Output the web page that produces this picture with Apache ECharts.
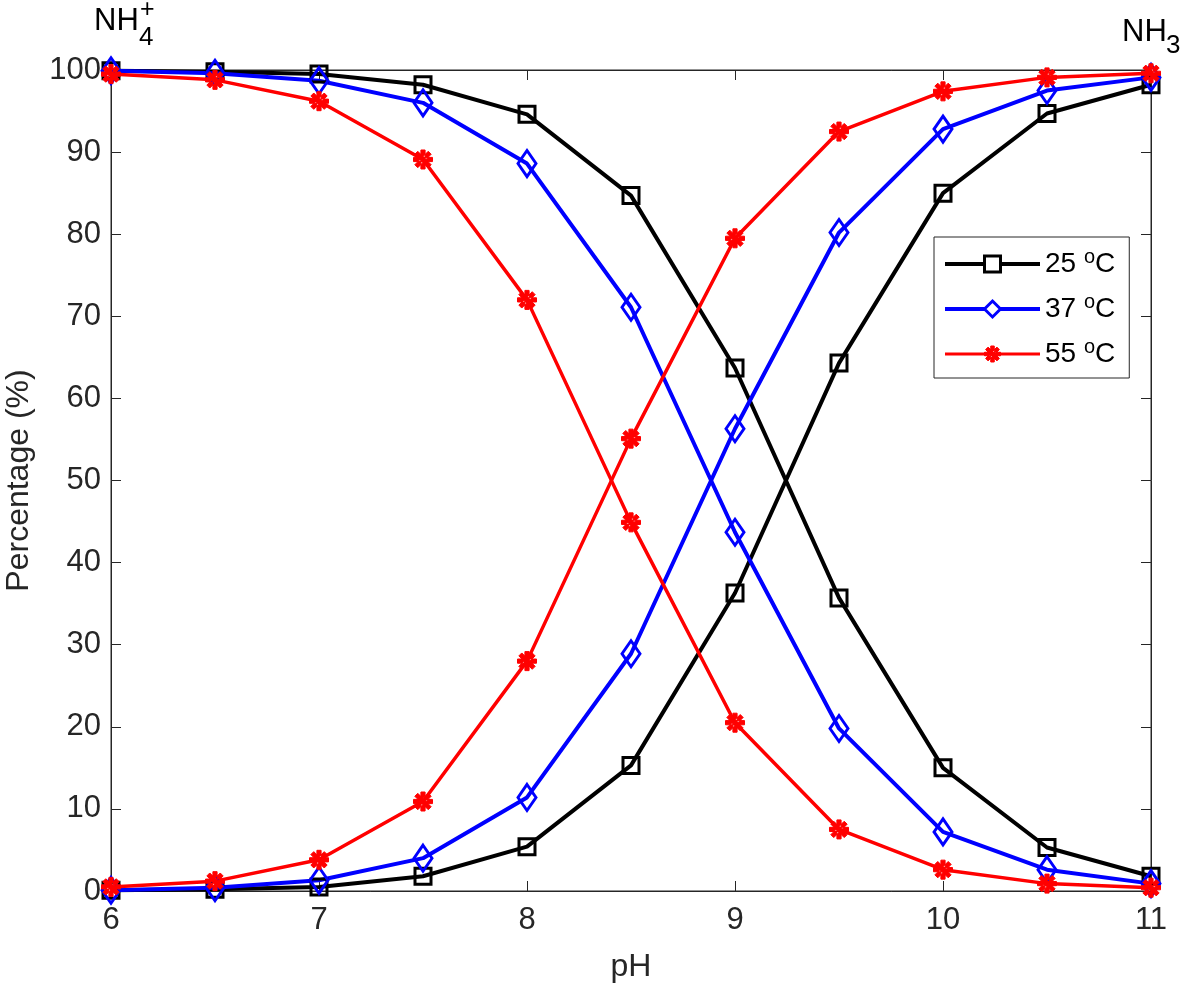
<!DOCTYPE html>
<html>
<head>
<meta charset="utf-8">
<script src="https://cdn.jsdelivr.net/npm/echarts@6/dist/echarts.min.js"></script>
<style>
html,body{margin:0;padding:0;background:#fff;}
#chart{width:1181px;height:990px;}
</style>
</head>
<body>
<div id="chart"></div>
<script>
// ---- data ----
var pH = [6, 6.5, 7, 7.5, 8, 8.5, 9, 9.5, 10, 10.5, 11];
var xTicks = [6, 7, 8, 9, 10, 11];
var yTicks = [0, 10, 20, 30, 40, 50, 60, 70, 80, 90, 100];
var temps = ['25', '37', '55'];
var nh4_25 = [99.9, 99.8, 99.5, 98.2, 94.6, 84.7, 63.7, 35.7, 15.0, 5.3, 1.8];
var nh3_25 = [0.1, 0.2, 0.5, 1.8, 5.4, 15.3, 36.3, 64.3, 85.0, 94.7, 98.2];
var nh4_37 = [99.9, 99.6, 98.7, 96.0, 88.6, 71.1, 43.7, 19.8, 7.2, 2.6, 0.9];
var nh3_37 = [0.1, 0.4, 1.3, 4.0, 11.4, 28.9, 56.3, 80.2, 92.8, 97.5, 99.1];
var nh4_55 = [99.5, 98.8, 96.2, 89.1, 72.0, 44.9, 20.5, 7.5, 2.6, 0.9, 0.4];
var nh3_55 = [0.5, 1.2, 3.8, 10.9, 28.0, 55.1, 79.5, 92.5, 97.4, 99.1, 99.6];

function pairs(ys) { return pH.map(function (x, i) { return [x, ys[i]]; }); }

var FONT = '"Liberation Sans", Arial, Helvetica, sans-serif';
var AX = '#262626';
var asterisk = 'path://M-2.2,-10L2.2,-10L2.2,10L-2.2,10Z M-10,-2.2L10,-2.2L10,2.2L-10,2.2Z ' +
  'M-5.5,-8.6L8.6,5.5L5.5,8.6L-8.6,-5.5Z M5.5,-8.6L-8.6,5.5L-5.5,8.6L8.6,-5.5Z';

var styles = {
  '25': { color: '#000000', width: 4, symbol: 'rect', size: 16, border: 3, legendLine: 4 },
  '37': { color: '#0000ff', width: 4, symbol: 'diamond', size: [18, 26], border: 3, legendLine: 4 },
  '55': { color: '#ff0000', width: 3.5, symbol: asterisk, size: 19, border: 1, legendLine: 3 }
};
var dataMap = { '25': [nh4_25, nh3_25], '37': [nh4_37, nh3_37], '55': [nh4_55, nh3_55] };

var series = [];
temps.forEach(function (t) {
  var s = styles[t];
  dataMap[t].forEach(function (ys) {
    series.push({
      name: t,
      type: 'line',
      data: pairs(ys),
      symbol: s.symbol,
      symbolSize: s.size,
      showAllSymbol: true,
      lineStyle: { color: s.color, width: s.width },
      itemStyle: {
        color: t === '55' ? s.color : 'rgba(0,0,0,0)',
        borderColor: s.color,
        borderWidth: s.border
      },
      emphasis: { disabled: true },
      animation: false
    });
  });
});

var legendData = temps.map(function (t) {
  var s = styles[t];
  return {
    name: t,
    lineStyle: { color: s.color, width: s.legendLine },
    itemStyle: {
      color: t === '55' ? s.color : '#ffffff',
      borderColor: s.color,
      borderWidth: t === '55' ? 1 : 3
    }
  };
});

var chart = echarts.init(document.getElementById('chart'), null, { renderer: 'canvas' });
chart.setOption({
  backgroundColor: '#ffffff',
  animation: false,
  grid: {
    left: 111, right: 30, top: 70, bottom: 99,
    show: true, borderColor: AX, borderWidth: 1,
    outerBoundsMode: 'none'
  },
  xAxis: [{
    type: 'value', min: xTicks[0], max: xTicks[xTicks.length - 1], interval: 1,
    name: 'pH', nameLocation: 'middle', nameGap: 60,
    nameTextStyle: { fontFamily: FONT, fontSize: 32, color: AX },
    axisLine: { show: true, onZero: false, lineStyle: { color: AX, width: 1 } },
    axisTick: { show: true, inside: true, length: 10, lineStyle: { color: AX } },
    axisLabel: { fontFamily: FONT, fontSize: 31, color: AX, margin: 14 },
    splitLine: { show: false }
  }, {
    type: 'value', position: 'top', min: xTicks[0], max: xTicks[xTicks.length - 1], interval: 1,
    axisLine: { show: true, onZero: false, lineStyle: { color: AX, width: 1 } },
    axisTick: { show: true, inside: true, length: 10, lineStyle: { color: AX } },
    axisLabel: { show: false }, splitLine: { show: false }
  }],
  yAxis: [{
    type: 'value', min: yTicks[0], max: yTicks[yTicks.length - 1], interval: 10,
    name: 'Percentage (%)', nameLocation: 'middle', nameGap: 76, nameRotate: 90,
    nameTextStyle: { fontFamily: FONT, fontSize: 32, color: AX },
    axisLine: { show: true, onZero: false, lineStyle: { color: AX, width: 1 } },
    axisTick: { show: true, inside: true, length: 10, lineStyle: { color: AX } },
    axisLabel: { fontFamily: FONT, fontSize: 31, color: AX, margin: 10 },
    splitLine: { show: false }
  }, {
    type: 'value', position: 'right', min: yTicks[0], max: yTicks[yTicks.length - 1], interval: 10,
    axisLine: { show: true, onZero: false, lineStyle: { color: AX, width: 1 } },
    axisTick: { show: true, inside: true, length: 10, lineStyle: { color: AX } },
    axisLabel: { show: false }, splitLine: { show: false }
  }],
  legend: {
    data: legendData,
    orient: 'vertical',
    left: 934, top: 237,
    itemWidth: 95, itemHeight: 20, itemGap: 14,
    padding: [10, 14, 10, 9],
    borderColor: AX, borderWidth: 1,
    backgroundColor: '#ffffff',
    selectedMode: false,
    formatter: function (name) { return '{t|' + name + ' }{s|o}{t|C}'; },
    textStyle: {
      color: '#000', fontFamily: FONT, fontSize: 28,
      rich: {
        t: { fontFamily: FONT, fontSize: 28, color: '#000' },
        s: { fontFamily: FONT, fontSize: 20, color: '#000', padding: [0, 0, 14, 0] }
      }
    }
  },
  graphic: [
    { type: 'text', x: 94, y: 21, style: { text: 'NH', fontFamily: FONT, fontSize: 31, fill: '#000', verticalAlign: 'middle', align: 'left' } },
    { type: 'text', x: 140, y: 10, style: { text: '+', fontFamily: FONT, fontSize: 25, fill: '#000', verticalAlign: 'middle', align: 'left' } },
    { type: 'text', x: 139, y: 38, style: { text: '4', fontFamily: FONT, fontSize: 26, fill: '#000', verticalAlign: 'middle', align: 'left' } },
    { type: 'text', x: 1122, y: 32, style: { text: 'NH', fontFamily: FONT, fontSize: 31, fill: '#000', verticalAlign: 'middle', align: 'left' } },
    { type: 'text', x: 1166, y: 46, style: { text: '3', fontFamily: FONT, fontSize: 26, fill: '#000', verticalAlign: 'middle', align: 'left' } }
  ],
  series: series
});
</script>
</body>
</html>
